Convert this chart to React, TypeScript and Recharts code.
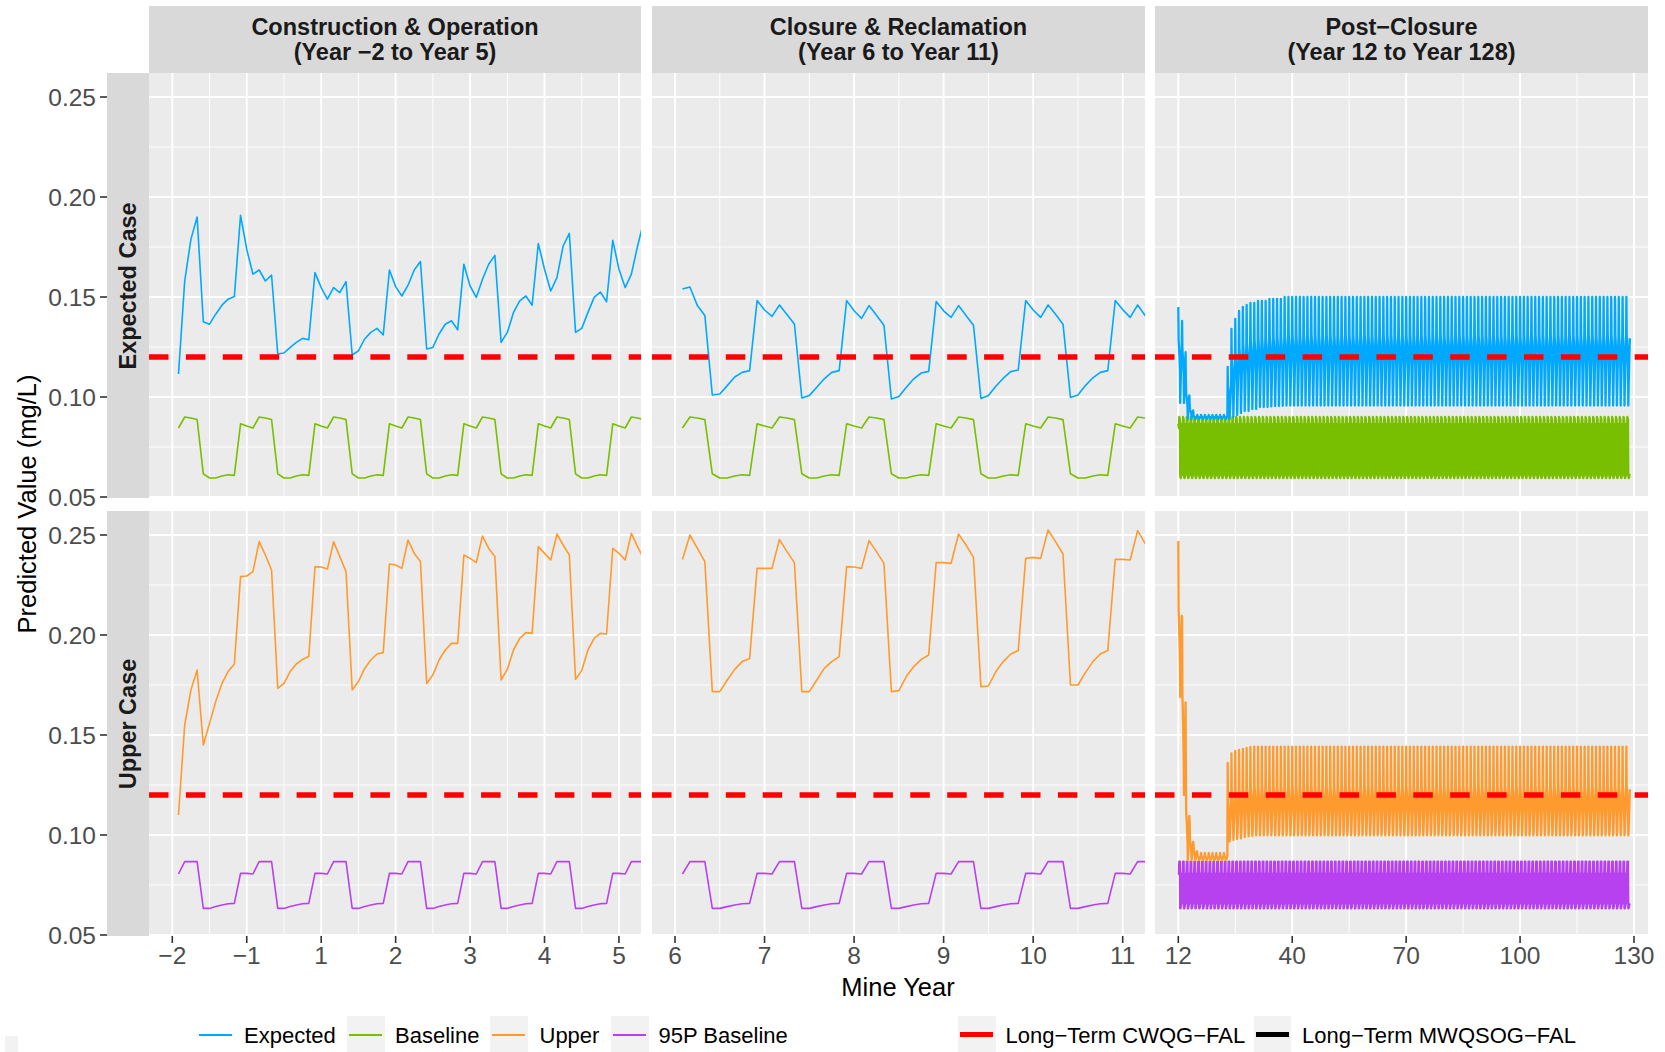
import React from 'react';
import { LineChart, Line, XAxis, YAxis, CartesianGrid } from 'recharts';

const FONT = '"Liberation Sans", Arial, Helvetica, sans-serif';

const BLUE = '#00A9FF';
const GREEN = '#77BF00';
const ORANGE = '#FF9A2E';
const PURPLE = '#B741EE';
const RED = '#FF0000';

// ---------- data ----------
const limitCWQG = 0.12;

const yTicks = [0.05, 0.1, 0.15, 0.2, 0.25];
const yMinor = [0.075, 0.125, 0.175, 0.225];

const opsTicks = [-2, -1, 0, 1, 2, 3, 4];
const opsTickLabels = ['−2', '−1', '1', '2', '3', '4', '5'];
const opsMinor = [-1.5, -0.5, 0.5, 1.5, 2.5, 3.5];
const closureTicks = [6, 7, 8, 9, 10, 11];
const closureTickLabels = ['6', '7', '8', '9', '10', '11'];
const closureMinor = [6.5, 7.5, 8.5, 9.5, 10.5];
const postTicks = [10, 40, 70, 100, 130];
const postTickLabels = ['12', '40', '70', '100', '130'];
const postMinor = [25, 55, 85, 115];

// monthly baseline climatology (repeats every year), starting with the month of the annual rise
const baselineMonthly = [0.0866, 0.0855, 0.0845, 0.09, 0.0895, 0.0887, 0.0616, 0.0595, 0.0595, 0.0605, 0.0611, 0.0608];
const p95BaselineMonthly = [0.0808, 0.0808, 0.0805, 0.0867, 0.0867, 0.0867, 0.0633, 0.0633, 0.0642, 0.065, 0.0656, 0.0658];

// Construction & Operation, monthly
const expectedOps = [
  0.1115, 0.158, 0.1788, 0.19, 0.1376, 0.1364, 0.1414, 0.1459, 0.1489, 0.1502,
  0.1908, 0.1738, 0.1614, 0.1635, 0.158, 0.1609, 0.1215, 0.122, 0.1248, 0.1273, 0.1293, 0.1286,
  0.1622, 0.1547, 0.1489, 0.1547, 0.1522, 0.1577, 0.121, 0.1231, 0.129, 0.1323, 0.1343, 0.131,
  0.1635, 0.1552, 0.1505, 0.1559, 0.1635, 0.1677, 0.124, 0.1248, 0.1315, 0.1364, 0.1381, 0.1336,
  0.1664, 0.1555, 0.1498, 0.1589, 0.1664, 0.1708, 0.1273, 0.1323, 0.1423, 0.1481, 0.1505, 0.1459,
  0.1767, 0.1639, 0.153, 0.1597, 0.1755, 0.1818, 0.1323, 0.1343, 0.1423, 0.1498, 0.1525, 0.1476,
  0.1783, 0.1639, 0.1547, 0.1614, 0.1755, 0.188,
];
const upperOps = [
  0.11, 0.155, 0.1725, 0.1825, 0.145, 0.1558, 0.1667, 0.1758, 0.1817, 0.1855,
  0.2292, 0.2295, 0.2317, 0.2467, 0.24, 0.2325, 0.1733, 0.1758, 0.1817, 0.1855, 0.1878, 0.1892,
  0.2342, 0.234, 0.233, 0.2467, 0.2392, 0.2317, 0.1725, 0.1767, 0.1833, 0.1875, 0.1905, 0.1912,
  0.2355, 0.235, 0.2333, 0.2475, 0.2408, 0.2367, 0.1758, 0.18, 0.1875, 0.1925, 0.1958, 0.1958,
  0.24, 0.2383, 0.2362, 0.2495, 0.2433, 0.2392, 0.1775, 0.1828, 0.1925, 0.1983, 0.2012, 0.2008,
  0.2442, 0.2408, 0.2375, 0.2505, 0.245, 0.24, 0.1778, 0.1822, 0.1925, 0.1983, 0.2008, 0.2005,
  0.2433, 0.2408, 0.2375, 0.2508, 0.2442, 0.238,
];

// Closure & Reclamation, monthly
const expectedClosure = [
  0.154, 0.155, 0.1457, 0.1407, 0.101, 0.1015, 0.1057, 0.11, 0.1123, 0.1132,
  0.1482, 0.1435, 0.1403, 0.146, 0.1412, 0.1365, 0.0995, 0.1007, 0.1049, 0.1091, 0.1123, 0.1132,
  0.1482, 0.1431, 0.1393, 0.1457, 0.1409, 0.1359, 0.099, 0.1003, 0.1049, 0.1091, 0.112, 0.1128,
  0.1477, 0.1431, 0.1398, 0.1457, 0.1407, 0.1359, 0.0993, 0.1007, 0.1054, 0.1094, 0.1127, 0.1135,
  0.1482, 0.1435, 0.1398, 0.146, 0.1414, 0.1364, 0.0998, 0.101, 0.1057, 0.1096, 0.1123, 0.1132,
  0.1482, 0.1437, 0.1398, 0.146, 0.1407, 0.136,
];
const upperClosure = [
  0.2378, 0.25, 0.2433, 0.2367, 0.1717, 0.1717, 0.1775, 0.1828, 0.1867, 0.1883,
  0.2333, 0.2333, 0.2333, 0.2478, 0.2417, 0.2362, 0.1717, 0.1717, 0.1775, 0.1833, 0.1867, 0.1892,
  0.2342, 0.234, 0.2333, 0.2472, 0.2417, 0.2358, 0.1717, 0.1722, 0.1792, 0.1842, 0.1878, 0.19,
  0.2362, 0.2362, 0.2358, 0.2505, 0.245, 0.2388, 0.1742, 0.1745, 0.1817, 0.1867, 0.1905, 0.1922,
  0.2383, 0.2388, 0.2383, 0.2525, 0.2467, 0.2405, 0.175, 0.175, 0.1812, 0.1867, 0.1905, 0.1922,
  0.2378, 0.2378, 0.2375, 0.2522, 0.2458, 0.24,
];

// Post-closure: yearly peak / low of the seasonal cycle (listed years, then steady state)
const POST_YEARS = 119;
const expectedPostPeak = [
  0.145, 0.138, 0.108, 0.096,
  0.091, 0.091, 0.091, 0.091, 0.091, 0.091, 0.091, 0.091, 0.091,
  0.115, 0.134, 0.139, 0.143, 0.145, 0.146, 0.147, 0.147, 0.148, 0.148, 0.148, 0.149, 0.149, 0.149, 0.149,
];
const expectedPostLow = [
  0.097, 0.097, 0.089, 0.089,
  0.089, 0.089, 0.089, 0.089, 0.089, 0.089, 0.089, 0.089, 0.089,
  0.089, 0.09, 0.091, 0.092, 0.093, 0.093, 0.094, 0.094, 0.095, 0.095, 0.095, 0.0953, 0.0955, 0.0955, 0.0956,
];
const expectedPostSteady = [0.15, 0.0957];
const upperPostPeak = [
  0.247, 0.209, 0.13, 0.105, 0.096,
  0.091, 0.091, 0.091, 0.091, 0.091, 0.091, 0.091, 0.091,
  0.136, 0.1408, 0.142, 0.1425, 0.143, 0.1435, 0.144,
];
const upperPostLow = [
  0.169, 0.12, 0.0875, 0.0875, 0.0875,
  0.0875, 0.0875, 0.0875, 0.0875, 0.0875, 0.0875, 0.0875, 0.0875,
  0.0967, 0.0975, 0.098, 0.0983, 0.099, 0.0993, 0.0995,
];
const upperPostSteady = [0.1442, 0.0998];
// relative position of each month between the yearly low (0) and peak (1)
const expectedPostShape = [1.0, 0.65, 0.6, 0.53, 0.44, 0.34, 0.0, 0.15, 0.28, 0.42, 0.53, 0.62];
const upperPostShape = [1.0, 0.55, 0.5, 0.42, 0.32, 0.22, 0.0, 0.05, 0.17, 0.29, 0.41, 0.52];

// ---------- series building ----------
type Pt = { x: number; y: number };
const OPS_START = -2;
const CLOSURE_START = 6;
const POST_START = 10;

const monthly = (start: number, values: number[]): Pt[] =>
  values.map((y, k) => ({ x: start + (k + 1) / 12, y }));

const climatology = (start: number, count: number, cycle: number[], phase: number, offset = 1): Pt[] =>
  Array.from({ length: count }, (_, k) => ({ x: start + (k + offset) / 12, y: cycle[(k + phase) % 12] }));

const postSeries = (peaks: number[], lows: number[], steady: number[], shape: number[]): Pt[] =>
  Array.from({ length: POST_YEARS * 12 }, (_, k) => {
    const yr = Math.floor(k / 12);
    const hi = yr < peaks.length ? peaks[yr] : steady[0];
    const lo = yr < lows.length ? lows[yr] : steady[1];
    return { x: POST_START + k / 12, y: lo + shape[k % 12] * (hi - lo) };
  });

const DENSE_W = 2.3;
const panelSeries = [
  [
    [
      { data: climatology(OPS_START, expectedOps.length, baselineMonthly, 2), color: GREEN },
      { data: monthly(OPS_START, expectedOps), color: BLUE },
    ],
    [
      { data: climatology(CLOSURE_START, expectedClosure.length, baselineMonthly, 2), color: GREEN },
      { data: monthly(CLOSURE_START, expectedClosure), color: BLUE },
    ],
    [
      { data: climatology(POST_START, POST_YEARS * 12, baselineMonthly, 0, 0), color: GREEN, width: DENSE_W },
      { data: postSeries(expectedPostPeak, expectedPostLow, expectedPostSteady, expectedPostShape), color: BLUE, width: DENSE_W },
    ],
  ],
  [
    [
      { data: climatology(OPS_START, upperOps.length, p95BaselineMonthly, 2), color: PURPLE },
      { data: monthly(OPS_START, upperOps), color: ORANGE },
    ],
    [
      { data: climatology(CLOSURE_START, upperClosure.length, p95BaselineMonthly, 2), color: PURPLE },
      { data: monthly(CLOSURE_START, upperClosure), color: ORANGE },
    ],
    [
      { data: climatology(POST_START, POST_YEARS * 12, p95BaselineMonthly, 0, 0), color: PURPLE, width: DENSE_W },
      { data: postSeries(upperPostPeak, upperPostLow, upperPostSteady, upperPostShape), color: ORANGE, width: DENSE_W },
    ],
  ],
];

// ---------- layout ----------
const Y_DOMAIN = [0.0495, 0.262];
const PANEL_H = 425;
const STRIP_LEFT = 107;
const STRIP_TOP = 6;

const columns = [
  { left: 149, width: 492, domain: [-2.313, 4.296], ticks: opsTicks, labels: opsTickLabels, minor: opsMinor,
    title: ['Construction & Operation', '(Year −2 to Year 5)'] },
  { left: 652, width: 493, domain: [5.743, 11.249], ticks: closureTicks, labels: closureTickLabels, minor: closureMinor,
    title: ['Closure & Reclamation', '(Year 6 to Year 11)'] },
  { left: 1155, width: 493, domain: [3.864, 133.69], ticks: postTicks, labels: postTickLabels, minor: postMinor,
    title: ['Post−Closure', '(Year 12 to Year 128)'] },
];
const rows = [
  { top: 73, label: 'Expected Case' },
  { top: 511, label: 'Upper Case' },
];

const legendItems = [
  { label: 'Expected', color: BLUE, left: 197, textLeft: 244, thick: 2, box: false },
  { label: 'Baseline', color: GREEN, left: 347, textLeft: 395, thick: 2, box: true },
  { label: 'Upper', color: ORANGE, left: 490, textLeft: 539.5, thick: 2, box: true },
  { label: '95P Baseline', color: PURPLE, left: 611, textLeft: 658.5, thick: 2, box: true },
  { label: 'Long−Term CWQG−FAL', color: RED, left: 958, textLeft: 1005.5, thick: 5, box: true },
  { label: 'Long−Term MWQSOG−FAL', color: '#000000', left: 1253.5, textLeft: 1302, thick: 5, box: true },
];

const YTick = (props: any) => {
  const { y, payload } = props;
  return (
    <g>
      <line x1={STRIP_LEFT - 7} x2={STRIP_LEFT} y1={y} y2={y} stroke="#333333" strokeWidth={1.6} />
      <text x={STRIP_LEFT - 11} y={y} dy="0.36em" textAnchor="end" fill="#4D4D4D" fontSize={24.5} fontFamily={FONT}>
        {Number(payload.value).toFixed(2)}
      </text>
    </g>
  );
};

function Panel({ col, row, rowIdx, colIdx }: any) {
  const showY = colIdx === 0;
  const showX = rowIdx === rows.length - 1;
  const mTop = 20;
  const mRight = 25;
  const mLeft = showY ? 0 : 25;
  const mBottom = showX ? 0 : 20;
  const yAxisW = showY ? col.left : 0;
  const xAxisH = showX ? 60 : 0;
  const w = mLeft + yAxisW + col.width + mRight;
  const h = mTop + PANEL_H + xAxisH + mBottom;
  const series = panelSeries[rowIdx][colIdx];
  const limit = [
    { x: col.domain[0], y: limitCWQG },
    { x: col.domain[1], y: limitCWQG },
  ];
  return (
    <div style={{ position: 'absolute', left: col.left - yAxisW - mLeft, top: row.top - mTop }}>
      <LineChart width={w} height={h} margin={{ top: mTop, right: mRight, bottom: mBottom, left: mLeft }}>
        <CartesianGrid fill="#EBEBEB" stroke="#FFFFFF" strokeWidth={0.9} horizontalValues={yMinor} verticalValues={col.minor} />
        <CartesianGrid stroke="#FFFFFF" strokeWidth={1.9} horizontalValues={yTicks} verticalValues={col.ticks} />
        <XAxis
          type="number"
          dataKey="x"
          domain={col.domain}
          allowDataOverflow
          ticks={col.ticks}
          interval={0}
          hide={!showX}
          height={xAxisH}
          axisLine={false}
          tickSize={7}
          tickMargin={4}
          tickLine={{ stroke: '#333333', strokeWidth: 1.6 }}
          tick={{ fill: '#4D4D4D', fontSize: 24.5, fontFamily: FONT }}
          tickFormatter={(v: number) => col.labels[col.ticks.indexOf(v)]}
        />
        <YAxis
          type="number"
          dataKey="y"
          domain={Y_DOMAIN}
          allowDataOverflow
          ticks={yTicks}
          interval={0}
          hide={!showY}
          width={yAxisW}
          axisLine={false}
          tickLine={false}
          tick={YTick}
        />
        {series.map((s: any, i: number) => (
          <Line
            key={i}
            data={s.data}
            dataKey="y"
            type="linear"
            stroke={s.color}
            strokeWidth={s.width ?? 1.6}
            strokeLinejoin="round"
            dot={false}
            activeDot={false}
            isAnimationActive={false}
          />
        ))}
        <Line
          data={limit}
          dataKey="y"
          type="linear"
          stroke={RED}
          strokeWidth={5.5}
          strokeDasharray="19.5 17.4"
          dot={false}
          activeDot={false}
          isAnimationActive={false}
        />
      </LineChart>
    </div>
  );
}

export default function App() {
  return (
    <div
      style={{
        position: 'fixed',
        left: 0,
        top: 0,
        width: 1665,
        height: 1052,
        background: '#FFFFFF',
        fontFamily: FONT,
        overflow: 'hidden',
      }}
    >
      {rows.map((row, ri) =>
        columns.map((col, ci) => <Panel key={`${ri}-${ci}`} col={col} row={row} rowIdx={ri} colIdx={ci} />)
      )}

      {columns.map((col, ci) => (
        <div
          key={`strip-${ci}`}
          style={{
            position: 'absolute',
            left: col.left,
            top: STRIP_TOP,
            width: col.width,
            height: rows[0].top - STRIP_TOP,
            background: '#D9D9D9',
            display: 'flex',
            flexDirection: 'column',
            alignItems: 'center',
            justifyContent: 'center',
            color: '#1A1A1A',
            fontWeight: 'bold',
            fontSize: 23.5,
            lineHeight: '25px',
            textAlign: 'center',
          }}
        >
          <div>{col.title[0]}</div>
          <div>{col.title[1]}</div>
        </div>
      ))}

      {rows.map((row, ri) => (
        <div
          key={`rstrip-${ri}`}
          style={{
            position: 'absolute',
            left: STRIP_LEFT,
            top: row.top,
            width: columns[0].left - STRIP_LEFT,
            height: PANEL_H,
            background: '#D9D9D9',
          }}
        >
          <div
            style={{
              position: 'absolute',
              left: '50%',
              top: '50%',
              transform: 'translate(-50%, -50%) rotate(-90deg)',
              whiteSpace: 'nowrap',
              color: '#1A1A1A',
              fontWeight: 'bold',
              fontSize: 23.5,
            }}
          >
            {row.label}
          </div>
        </div>
      ))}

      <div
        style={{
          position: 'absolute',
          left: 26.5,
          top: 504,
          transform: 'translate(-50%, -50%) rotate(-90deg)',
          whiteSpace: 'nowrap',
          fontSize: 25.5,
          color: '#000000',
        }}
      >
        Predicted Value (mg/L)
      </div>
      <div
        style={{
          position: 'absolute',
          left: 898,
          top: 986.5,
          transform: 'translate(-50%, -50%)',
          whiteSpace: 'nowrap',
          fontSize: 25.5,
          color: '#000000',
        }}
      >
        Mine Year
      </div>

      <div style={{ position: 'absolute', left: 5, top: 1036, width: 13, height: 16, background: '#F2F2F2' }} />
      {legendItems.map((it) => (
        <React.Fragment key={it.label}>
          {it.box && (
            <div style={{ position: 'absolute', left: it.left, top: 1016, width: 37.5, height: 40, background: '#F2F2F2' }} />
          )}
          <div
            style={{
              position: 'absolute',
              left: it.left + 2,
              top: 1034.5 - it.thick / 2,
              width: 33,
              height: it.thick,
              background: it.color,
            }}
          />
          <div
            style={{
              position: 'absolute',
              left: it.textLeft,
              top: 1023.5,
              fontSize: 22,
              lineHeight: '23px',
              color: '#000000',
              whiteSpace: 'nowrap',
            }}
          >
            {it.label}
          </div>
        </React.Fragment>
      ))}
    </div>
  );
}
